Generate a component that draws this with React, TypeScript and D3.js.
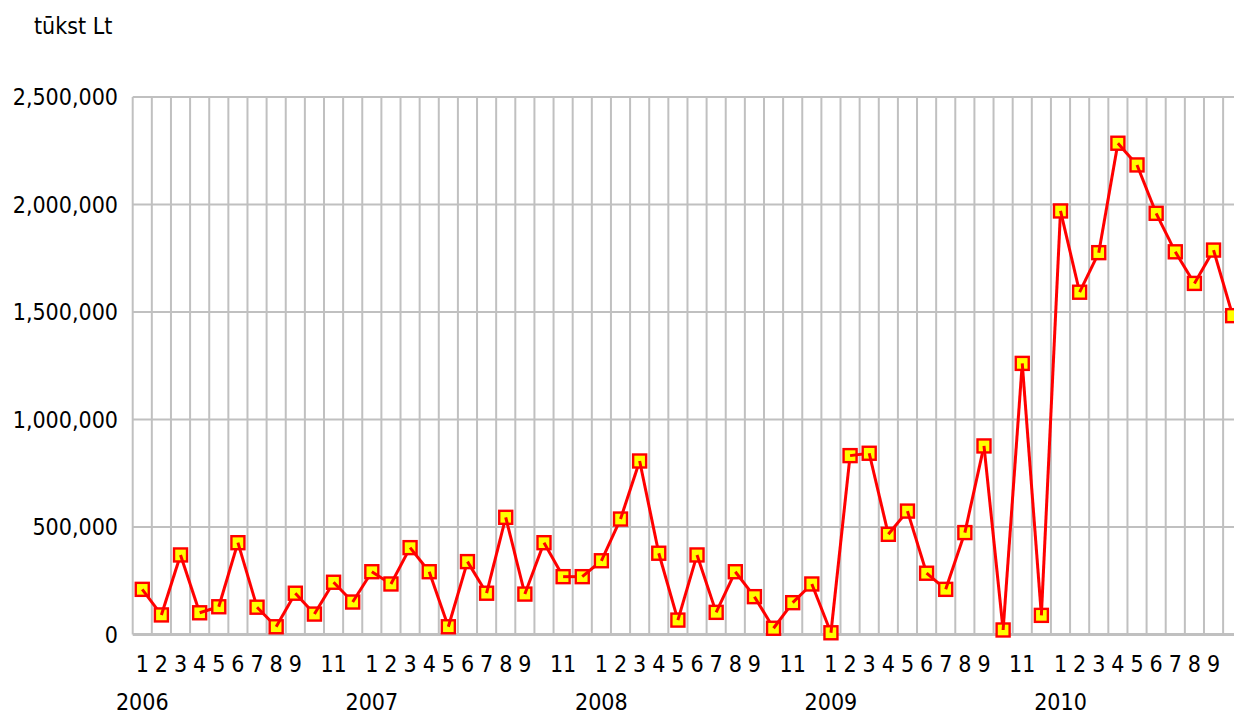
import { useEffect } from 'react'
import * as d3 from 'd3'

// chart values (tūkst Lt), monthly 2006-01 .. 2010-10
const unitLabel = 'tūkst Lt'
const years = ['2006', '2007', '2008', '2009', '2010']
const monthTicks = ['1', '2', '3', '4', '5', '6', '7', '8', '9', '', '11', '']
const v2006 = [210000, 91000, 370000, 101000, 129000, 427000, 127000, 36000, 192000, 95000, 243000, 151000]
const v2007 = [292000, 235000, 404000, 292000, 36000, 339000, 192000, 545000, 188000, 427000, 269000, 269000]
const v2008 = [343000, 537000, 807000, 378000, 67000, 370000, 103000, 292000, 176000, 29000, 148000, 235000]
const v2009 = [8000, 832000, 843000, 466000, 574000, 285000, 210000, 474000, 877000, 21000, 1261000, 89000]
const v2010 = [1970000, 1592000, 1776000, 2285000, 2184000, 1959000, 1780000, 1633000, 1788000, 1483000]
const yTicks = [0, 500000, 1000000, 1500000, 2000000, 2500000]

const W = 1234
const H = 715
const left = 132.7
const band = 19.13
const top = 97
const bottom = 634.5
const font = "'DejaVu Sans Condensed', 'DejaVu Sans', sans-serif"
const grid = '#c0c0c0'

export default function App() {
  useEffect(() => {
    document.body.style.margin = '0'
    document.body.style.overflow = 'hidden'
  }, [])

  const series = [v2006, v2007, v2008, v2009, v2010]
  const points = series.flatMap((vals, yi) =>
    vals.map((v, mi) => ({ key: `${years[yi]}-${mi + 1}`, year: years[yi], month: mi, value: v }))
  )
  const keys = points.map(d => d.key)

  const x = d3.scaleBand<string>()
    .domain(keys)
    .range([left, left + keys.length * band])
  const y = d3.scaleLinear().domain([0, 2500000]).range([bottom, top])
  const cx = (k: string) => (x(k) ?? 0) + x.bandwidth() / 2
  const right = left + keys.length * band
  const fmt = d3.format(',')

  const textStyle = { fontFamily: font, fontStretch: 'condensed' as const, fontSize: 23, fill: '#000' }

  return (
    <svg width={W} height={H} style={{ display: 'block', background: '#fff' }}>
      <text x={34} y={34} style={textStyle}>{unitLabel}</text>

      {/* grid */}
      {keys.map(k => (
        <line key={'v' + k} x1={x(k)} x2={x(k)} y1={top} y2={bottom} stroke={grid} strokeWidth={2} />
      ))}
      <line x1={right} x2={right} y1={top} y2={bottom} stroke={grid} strokeWidth={2} />
      {yTicks.map(t => (
        <line key={'h' + t} x1={left} x2={right} y1={y(t)} y2={y(t)} stroke={grid} strokeWidth={t === 0 ? 3 : 2} />
      ))}

      {/* y labels */}
      {yTicks.map(t => (
        <text key={'yl' + t} x={118} y={y(t)} dy="0.36em" textAnchor="end" style={textStyle}>{fmt(t)}</text>
      ))}

      {/* x labels */}
      {points.map(d => (
        <text key={'ml' + d.key} x={cx(d.key)} y={672} textAnchor="middle" style={textStyle}>
          {monthTicks[d.month]}
        </text>
      ))}
      {years.map(yr => (
        <text key={'yr' + yr} x={cx(`${yr}-1`)} y={710} textAnchor="middle" style={textStyle}>{yr}</text>
      ))}

      {/* line with markers */}
      {points.map((d, i) => {
        const nx = points[i + 1]
        return (
          <g key={'p' + d.key}>
            <rect x={cx(d.key) - 6.5} y={y(d.value) - 6.5} width={13} height={13}
              fill="#ffff00" stroke="#ff0000" strokeWidth={2.4} />
            {nx && (
              <line x1={cx(d.key)} y1={y(d.value)} x2={cx(nx.key)} y2={y(nx.value)}
                stroke="#ff0000" strokeWidth={3} />
            )}
          </g>
        )
      })}
    </svg>
  )
}
